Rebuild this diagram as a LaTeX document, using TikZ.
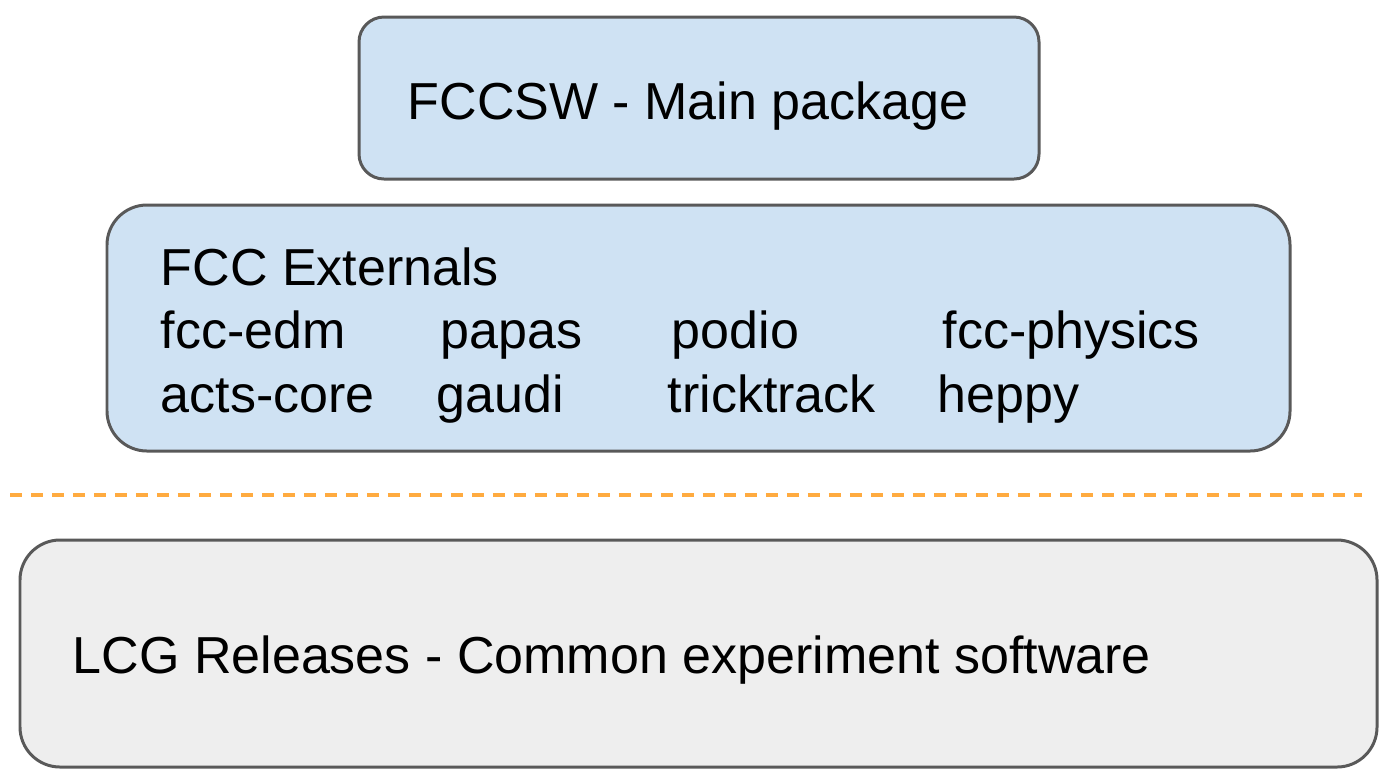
\documentclass[tikz,border=0pt]{standalone}
\usepackage{xcolor}
\usepackage{tikz}
\usepackage{fontspec}
\setmainfont{Liberation Sans}
\usetikzlibrary{positioning, calc}

\definecolor{layerblue}{HTML}{CFE2F3}
\definecolor{layergray}{HTML}{EEEEEE}
\definecolor{layerborder}{HTML}{595959}
\definecolor{splitorange}{HTML}{FFAB40}

\begin{document}
\begin{tikzpicture}[
    layerbox/.style={rectangle,draw=layerborder,line width=0.85pt,rounded corners=0.4cm},
    pkgtext/.style={font=\fontsize{14.8}{18}\selectfont,inner sep=0pt,anchor=base west},
    splitline/.style={draw=splitorange,line width=1.15pt,dash pattern=on 0.12cm off 0.09cm}
]
    \useasboundingbox (0,0) rectangle (13.81,-7.76);
    % main package
    \node[layerbox,fill=layerblue,rounded corners=0.25cm,minimum width=6.80cm,minimum height=1.62cm] (fccsw) at (6.99,-0.98) {};
    \node[pkgtext] (fccswtxt) at (4.07,-1.19) {FCCSW - Main package};
    % externals
    \node[layerbox,fill=layerblue,minimum width=11.83cm,minimum height=2.46cm] (externals) at (6.985,-3.28) {};
    \node[pkgtext] (exttitle) at (1.60,-2.85) {FCC Externals};
    \node[pkgtext] (fccedm) at (1.60,-3.48) {fcc-edm};
    \node[pkgtext] (papas) at (4.40,-3.48) {papas};
    \node[pkgtext] (podio) at (6.71,-3.48) {podio};
    \node[pkgtext] (fccphys) at (9.42,-3.48) {fcc-physics};
    \node[pkgtext] (actscore) at (1.60,-4.12) {acts-core};
    \node[pkgtext] (gaudi) at (4.36,-4.12) {gaudi};
    \node[pkgtext] (tricktrack) at (6.67,-4.12) {tricktrack};
    \node[pkgtext] (heppy) at (9.37,-4.12) {heppy};
    % separator
    \coordinate (splitL) at (0.10,-4.95);
    \coordinate (splitR) at (13.62,-4.95);
    \draw[splitline] (splitL) -- (splitR);
    % lcg
    \node[layerbox,fill=layergray,minimum width=13.57cm,minimum height=2.27cm] (lcg) at (6.985,-6.535) {};
    \node[pkgtext] (lcgtxt) at (0.72,-6.73) {LCG Releases - Common experiment software};
\end{tikzpicture}
\end{document}
